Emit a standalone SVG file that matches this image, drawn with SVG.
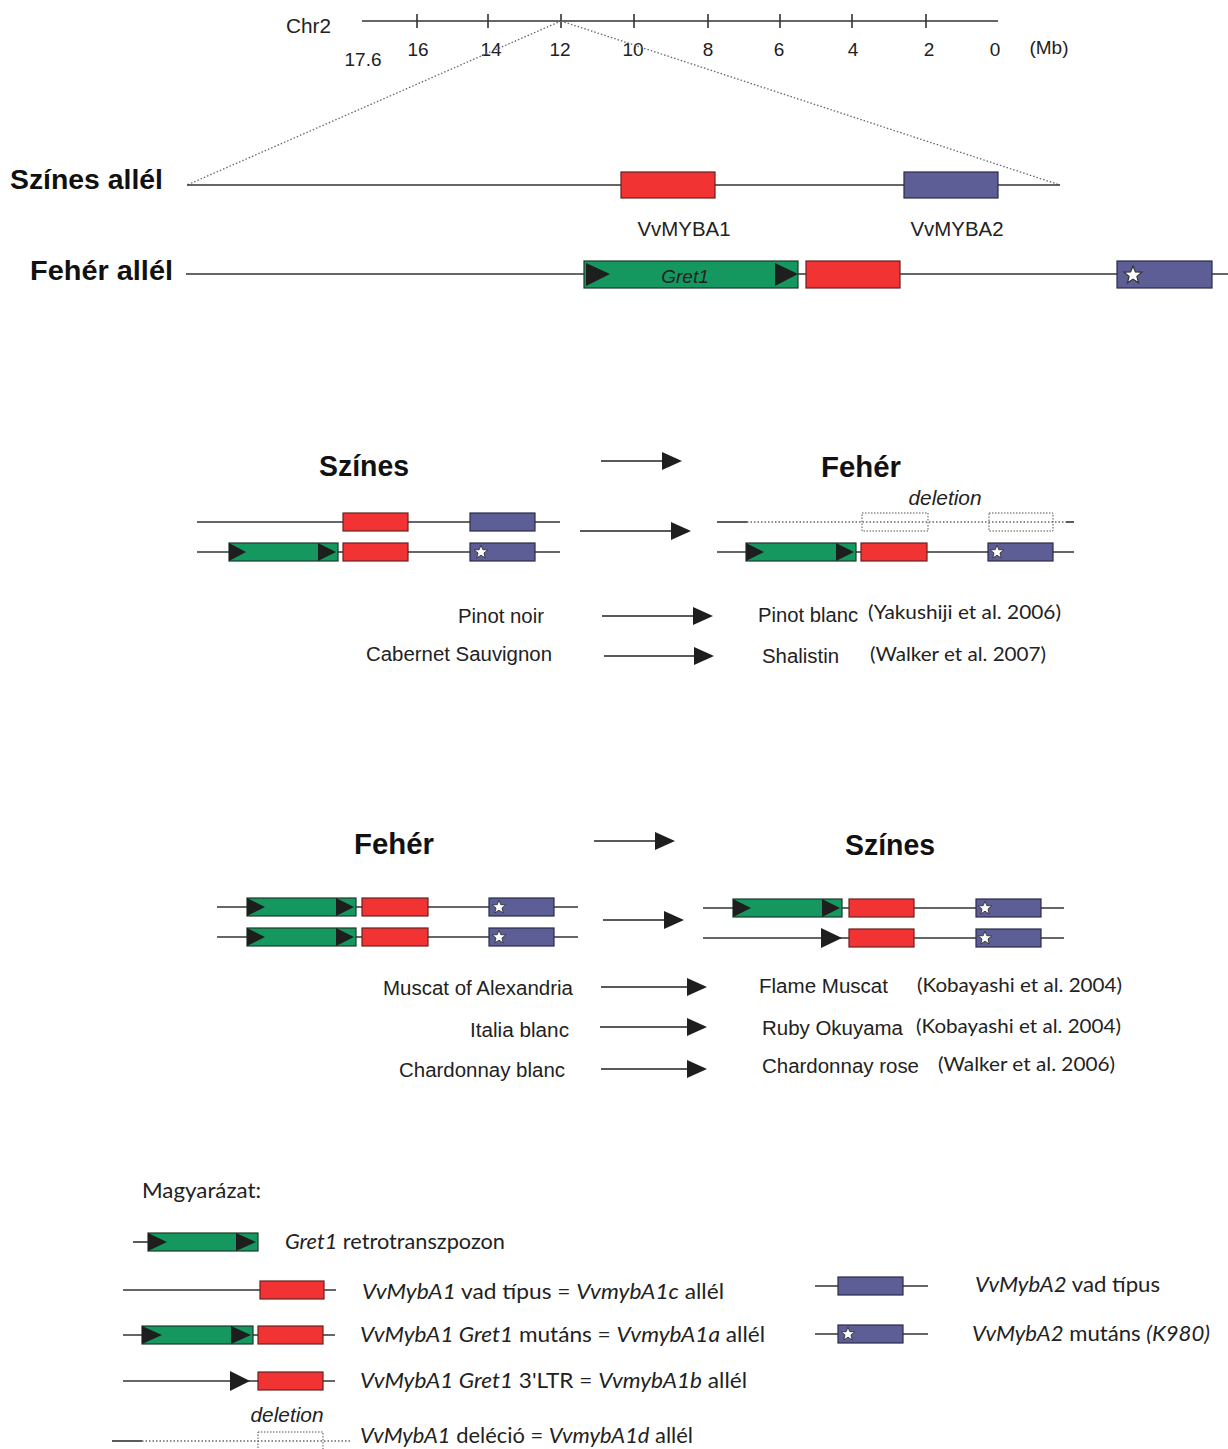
<svg xmlns="http://www.w3.org/2000/svg" width="1228" height="1449" viewBox="0 0 1228 1449">
<defs>
<style>
.ln{stroke:#333;stroke-width:1.6;fill:none}
.dot{stroke:#666;stroke-width:1.3;stroke-dasharray:1.5 2;fill:none}
.red{fill:#f23333;stroke:#6a2020;stroke-width:1.2}
.grn{fill:#14985f;stroke:#1d3a2a;stroke-width:1.2}
.pur{fill:#5e5e96;stroke:#2a2a4a;stroke-width:1.2}
.tri{fill:#1e1e1e}
.del{fill:none;stroke:#555;stroke-width:1;stroke-dasharray:1.5 1.5}
.t{font-family:"Liberation Sans",Arial,sans-serif;fill:#222}
.h{font-family:"Liberation Sans",Arial,sans-serif;font-weight:bold;fill:#111}
.c{font-family:Lato,"Liberation Sans",sans-serif;fill:#222}
.arr{stroke:#222;stroke-width:1.6;fill:none;marker-end:url(#ah)}
</style>
<marker id="ah" markerWidth="20" markerHeight="20" refX="0" refY="10" orient="auto" markerUnits="userSpaceOnUse" viewBox="0 0 20 20">
<path d="M0,1 L20,10 L0,19 Z" fill="#1e1e1e"/>
</marker>
<g id="star"><polygon points="0,-6 1.6,-2 6,-1.9 2.6,0.9 3.7,5.2 0,2.8 -3.7,5.2 -2.6,0.9 -6,-1.9 -1.6,-2" fill="#fff" stroke="#333" stroke-width="0.8"/></g>
</defs>

<!-- chromosome axis -->
<g id="axis">
<line class="ln" x1="362" y1="21" x2="998" y2="21"/>
<path class="ln" d="M417,14V28M488,14V28M561,14V28M634,14V28M708,14V28M780,14V28M852,14V28M926,14V28"/>
<text class="t" x="286" y="33" font-size="20" textLength="45" lengthAdjust="spacingAndGlyphs">Chr2</text>
<g font-size="19" class="t" text-anchor="middle">
<text x="363" y="66">17.6</text>
<text x="418" y="56">16</text>
<text x="491" y="56">14</text>
<text x="560" y="56">12</text>
<text x="633" y="56">10</text>
<text x="708" y="56">8</text>
<text x="779" y="56">6</text>
<text x="853" y="56">4</text>
<text x="929" y="56">2</text>
<text x="995" y="56">0</text>
<text x="1049" y="54">(Mb)</text>
</g>
<line class="dot" x1="561" y1="21" x2="187" y2="185"/>
<line class="dot" x1="561" y1="21" x2="1060" y2="185"/>
</g>

<!-- top alleles -->
<g id="szines-allel">
<text class="h" x="10" y="189" font-size="28" textLength="153" lengthAdjust="spacingAndGlyphs">Színes allél</text>
<line class="ln" x1="187" y1="185" x2="1060" y2="185"/>
<rect class="red" x="621" y="172" width="94" height="26"/>
<rect class="pur" x="904" y="172" width="94" height="26"/>
<text class="t" x="684" y="236" font-size="20" text-anchor="middle" textLength="93" lengthAdjust="spacingAndGlyphs">VvMYBA1</text>
<text class="t" x="957" y="236" font-size="20" text-anchor="middle" textLength="93" lengthAdjust="spacingAndGlyphs">VvMYBA2</text>
</g>
<g id="feher-allel">
<text class="h" x="30" y="280" font-size="28" textLength="143" lengthAdjust="spacingAndGlyphs">Fehér allél</text>
<line class="ln" x1="186" y1="274" x2="1228" y2="274"/>
<rect class="grn" x="584" y="261" width="214" height="27"/>
<path class="tri" d="M586,263 L610,274 L586,286Z M775,263 L798,274 L775,286Z"/>
<text class="t" x="685" y="283" font-size="19" font-style="italic" text-anchor="middle" fill="#1d4a30">Gret1</text>
<rect class="red" x="806" y="261" width="94" height="27"/>
<rect class="pur" x="1117" y="261" width="95" height="27"/>
<use href="#star" transform="translate(1133,275) scale(1.5)"/>
</g>

<!-- section 2 -->
<g id="sec2-titles">
<text class="h" x="364" y="476" font-size="29" text-anchor="middle" textLength="90" lengthAdjust="spacingAndGlyphs">Színes</text>
<text class="h" x="861" y="477" font-size="29" text-anchor="middle" textLength="80" lengthAdjust="spacingAndGlyphs">Fehér</text>
<text class="t" x="945" y="505" font-size="20" font-style="italic" text-anchor="middle" textLength="73" lengthAdjust="spacingAndGlyphs">deletion</text>
</g>
<g id="sec2-left">
<line class="ln" x1="197" y1="522" x2="560" y2="522"/>
<rect class="red" x="343" y="513" width="65" height="18"/>
<rect class="pur" x="470" y="513" width="65" height="18"/>
<line class="ln" x1="197" y1="552" x2="560" y2="552"/>
<rect class="grn" x="229" y="543" width="109" height="18"/>
<path class="tri" d="M229,543 L246,552 L229,561Z M318,543 L336,552 L318,561Z"/>
<rect class="red" x="343" y="543" width="65" height="18"/>
<rect class="pur" x="470" y="543" width="65" height="18"/>
<use href="#star" transform="translate(481,552) scale(1.15)"/>
</g>
<g id="sec2-right">
<line class="ln" x1="717" y1="522" x2="747" y2="522"/>
<line class="dot" x1="747" y1="522" x2="1066" y2="522"/>
<line class="ln" x1="1066" y1="522" x2="1074" y2="522"/>
<rect class="del" x="862" y="513" width="66" height="18"/>
<rect class="del" x="989" y="513" width="64" height="18"/>
<line class="ln" x1="717" y1="552" x2="1074" y2="552"/>
<rect class="grn" x="746" y="543" width="110" height="18"/>
<path class="tri" d="M746,543 L764,552 L746,561Z M836,543 L854,552 L836,561Z"/>
<rect class="red" x="861" y="543" width="66" height="18"/>
<rect class="pur" x="988" y="543" width="65" height="18"/>
<use href="#star" transform="translate(997,552) scale(1.15)"/>
</g>
<g id="sec2-text">
<text class="t" x="544" y="623" font-size="20" text-anchor="end" textLength="86" lengthAdjust="spacingAndGlyphs">Pinot noir</text>
<text class="t" x="552" y="661" font-size="20" text-anchor="end" textLength="186" lengthAdjust="spacingAndGlyphs">Cabernet Sauvignon</text>
<text class="t" x="758" y="622" font-size="20" textLength="100" lengthAdjust="spacingAndGlyphs">Pinot blanc</text>
<text class="t" x="762" y="663" font-size="20" textLength="77" lengthAdjust="spacingAndGlyphs">Shalistin</text>
<text class="c" x="868" y="619" font-size="20" textLength="193" lengthAdjust="spacingAndGlyphs">(Yakushiji et al. 2006)</text>
<text class="c" x="870" y="661" font-size="20" textLength="176" lengthAdjust="spacingAndGlyphs">(Walker et al. 2007)</text>
</g>

<!-- section 3 -->
<g id="sec3-titles">
<text class="h" x="394" y="854" font-size="29" text-anchor="middle" textLength="80" lengthAdjust="spacingAndGlyphs">Fehér</text>
<text class="h" x="890" y="855" font-size="29" text-anchor="middle" textLength="90" lengthAdjust="spacingAndGlyphs">Színes</text>
</g>
<g id="sec3-left">
<line class="ln" x1="217" y1="907" x2="578" y2="907"/>
<rect class="grn" x="247" y="898" width="109" height="18"/>
<path class="tri" d="M247,898 L265,907 L247,916Z M336,898 L354,907 L336,916Z"/>
<rect class="red" x="362" y="898" width="66" height="18"/>
<rect class="pur" x="489" y="898" width="65" height="18"/>
<use href="#star" transform="translate(499,907) scale(1.15)"/>
<line class="ln" x1="217" y1="937" x2="578" y2="937"/>
<rect class="grn" x="247" y="928" width="109" height="18"/>
<path class="tri" d="M247,928 L265,937 L247,946Z M336,928 L354,937 L336,946Z"/>
<rect class="red" x="362" y="928" width="66" height="18"/>
<rect class="pur" x="489" y="928" width="65" height="18"/>
<use href="#star" transform="translate(499,937) scale(1.15)"/>
</g>
<g id="sec3-right">
<line class="ln" x1="703" y1="908" x2="1064" y2="908"/>
<rect class="grn" x="733" y="899" width="109" height="18"/>
<path class="tri" d="M733,899 L751,908 L733,917Z M822,899 L840,908 L822,917Z"/>
<rect class="red" x="849" y="899" width="65" height="18"/>
<rect class="pur" x="976" y="899" width="65" height="18"/>
<use href="#star" transform="translate(985,908) scale(1.15)"/>
<line class="ln" x1="703" y1="938" x2="1064" y2="938"/>
<path class="tri" d="M821,928 L842,938 L821,948Z"/>
<rect class="red" x="849" y="929" width="65" height="18"/>
<rect class="pur" x="976" y="929" width="65" height="18"/>
<use href="#star" transform="translate(985,938) scale(1.15)"/>
</g>
<g id="sec3-text">
<text class="t" x="573" y="995" font-size="20" text-anchor="end" textLength="190" lengthAdjust="spacingAndGlyphs">Muscat of Alexandria</text>
<text class="t" x="569" y="1037" font-size="20" text-anchor="end" textLength="99" lengthAdjust="spacingAndGlyphs">Italia blanc</text>
<text class="t" x="565" y="1077" font-size="20" text-anchor="end" textLength="166" lengthAdjust="spacingAndGlyphs">Chardonnay blanc</text>
<text class="t" x="759" y="993" font-size="20" textLength="129" lengthAdjust="spacingAndGlyphs">Flame Muscat</text>
<text class="t" x="762" y="1035" font-size="20" textLength="141" lengthAdjust="spacingAndGlyphs">Ruby Okuyama</text>
<text class="t" x="762" y="1073" font-size="20" textLength="157" lengthAdjust="spacingAndGlyphs">Chardonnay rose</text>
<text class="c" x="917" y="992" font-size="20" textLength="205" lengthAdjust="spacingAndGlyphs">(Kobayashi et al. 2004)</text>
<text class="c" x="916" y="1033" font-size="20" textLength="205" lengthAdjust="spacingAndGlyphs">(Kobayashi et al. 2004)</text>
<text class="c" x="938" y="1071" font-size="20" textLength="177" lengthAdjust="spacingAndGlyphs">(Walker et al. 2006)</text>
</g>

<!-- connectors (arrows) -->
<g id="connectors">
<line class="arr" x1="601" y1="461" x2="662" y2="461"/>
<line class="arr" x1="580" y1="531" x2="671" y2="531"/>
<line class="arr" x1="602" y1="616" x2="693" y2="616"/>
<line class="arr" x1="604" y1="656" x2="694" y2="656"/>
<line class="arr" x1="594" y1="841" x2="655" y2="841"/>
<line class="arr" x1="603" y1="920" x2="664" y2="920"/>
<line class="arr" x1="601" y1="987" x2="687" y2="987"/>
<line class="arr" x1="600" y1="1027" x2="687" y2="1027"/>
<line class="arr" x1="601" y1="1069" x2="687" y2="1069"/>
</g>

<!-- legend -->
<g id="legend">
<text class="c" x="142" y="1198" font-size="21" textLength="119" lengthAdjust="spacingAndGlyphs">Magyarázat:</text>
<g id="leg-gret1">
<line class="ln" x1="133" y1="1242" x2="148" y2="1242"/>
<rect class="grn" x="148" y="1233" width="110" height="18"/>
<path class="tri" d="M148,1233 L167,1242 L148,1251Z M236,1233 L256,1242 L236,1251Z"/>
<text class="c" x="285" y="1249" font-size="21" textLength="220" lengthAdjust="spacingAndGlyphs"><tspan font-style="italic">Gret1</tspan> retrotranszpozon</text>
</g>
<g id="leg-a1c">
<line class="ln" x1="123" y1="1290" x2="336" y2="1290"/>
<rect class="red" x="260" y="1281" width="64" height="18"/>
<text class="c" x="362" y="1299" font-size="21" textLength="362" lengthAdjust="spacingAndGlyphs"><tspan font-style="italic">VvMybA1</tspan> vad típus  =  <tspan font-style="italic">VvmybA1c</tspan> allél</text>
</g>
<g id="leg-a1a">
<line class="ln" x1="123" y1="1335" x2="335" y2="1335"/>
<rect class="grn" x="142" y="1326" width="111" height="18"/>
<path class="tri" d="M142,1326 L162,1335 L142,1344Z M231,1326 L251,1335 L231,1344Z"/>
<rect class="red" x="258" y="1326" width="65" height="18"/>
<text class="c" x="360" y="1342" font-size="21" textLength="405" lengthAdjust="spacingAndGlyphs"><tspan font-style="italic">VvMybA1 Gret1</tspan> mutáns = <tspan font-style="italic">VvmybA1a</tspan> allél</text>
</g>
<g id="leg-a1b">
<line class="ln" x1="123" y1="1381" x2="335" y2="1381"/>
<path class="tri" d="M230,1371 L250,1381 L230,1391Z"/>
<rect class="red" x="258" y="1372" width="65" height="18"/>
<text class="c" x="360" y="1388" font-size="21" textLength="387" lengthAdjust="spacingAndGlyphs"><tspan font-style="italic">VvMybA1  Gret1</tspan> 3'LTR  = <tspan font-style="italic">VvmybA1b</tspan>  allél</text>
</g>
<g id="leg-a1d">
<text class="t" x="287" y="1422" font-size="20" font-style="italic" text-anchor="middle" textLength="73" lengthAdjust="spacingAndGlyphs">deletion</text>
<line class="ln" x1="112" y1="1441" x2="142" y2="1441"/>
<line class="dot" x1="142" y1="1441" x2="350" y2="1441"/>
<rect class="del" x="258" y="1432" width="65" height="18"/>
<text class="c" x="360" y="1443" font-size="21" textLength="333" lengthAdjust="spacingAndGlyphs"><tspan font-style="italic">VvMybA1</tspan> deléció = <tspan font-style="italic">VvmybA1d</tspan> allél</text>
</g>
<g id="leg-a2wt">
<line class="ln" x1="815" y1="1286" x2="928" y2="1286"/>
<rect class="pur" x="838" y="1277" width="65" height="18"/>
<text class="c" x="975" y="1292" font-size="21" textLength="185" lengthAdjust="spacingAndGlyphs"><tspan font-style="italic">VvMybA2</tspan> vad típus</text>
</g>
<g id="leg-a2mut">
<line class="ln" x1="815" y1="1334" x2="928" y2="1334"/>
<rect class="pur" x="838" y="1325" width="65" height="18"/>
<use href="#star" transform="translate(848,1334) scale(1.15)"/>
<text class="c" x="972" y="1341" font-size="21" textLength="238" lengthAdjust="spacingAndGlyphs"><tspan font-style="italic">VvMybA2</tspan> mutáns <tspan font-style="italic">(K980)</tspan></text>
</g>
</g>
</svg>
